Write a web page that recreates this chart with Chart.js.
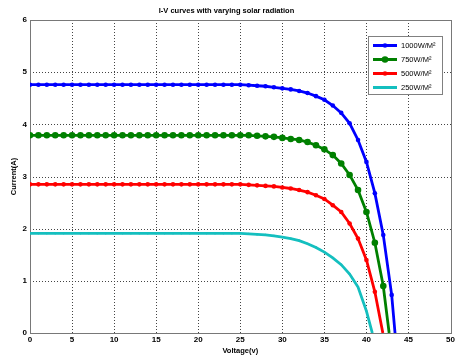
<!DOCTYPE html>
<html>
<head>
<meta charset="utf-8">
<script src="https://cdn.jsdelivr.net/npm/chart.js@4"></script>
<style>
body{margin:0;background:#fff}
canvas{display:block}
</style>
</head>
<body>
<canvas id="myChart" width="457" height="358"></canvas>
<script>
// voltage steps (V) and measured current (A) for each irradiance
const volts = [0,1,2,3,4,5,6,7,8,9,10,11,12,13,14,15,16,17,18,19,20,21,22,23,24,25,26,27,28,29,30,31,32,33,34,35,36,37,38,39,40,41,42,43];
const seriesNames = ['1000W/M²', '750W/M²', '500W/M²', '250W/M²'];
const i1000 = [4.76,4.76,4.76,4.76,4.76,4.76,4.76,4.76,4.76,4.76,4.76,4.76,4.76,4.76,4.76,4.76,4.76,4.76,4.76,4.76,4.76,4.76,4.76,4.76,4.76,4.76,4.75,4.74,4.73,4.71,4.69,4.67,4.64,4.60,4.54,4.47,4.36,4.22,4.02,3.70,3.28,2.68,1.88,0.73];
const i750 = [3.79,3.79,3.79,3.79,3.79,3.79,3.79,3.79,3.79,3.79,3.79,3.79,3.79,3.79,3.79,3.79,3.79,3.79,3.79,3.79,3.79,3.79,3.79,3.79,3.79,3.79,3.79,3.78,3.77,3.76,3.74,3.72,3.70,3.66,3.60,3.52,3.41,3.25,3.03,2.74,2.32,1.73,0.90];
const i500 = [2.85,2.85,2.85,2.85,2.85,2.85,2.85,2.85,2.85,2.85,2.85,2.85,2.85,2.85,2.85,2.85,2.85,2.85,2.85,2.85,2.85,2.85,2.85,2.85,2.85,2.85,2.84,2.83,2.82,2.81,2.79,2.77,2.74,2.70,2.64,2.57,2.45,2.32,2.10,1.81,1.40,0.79];
const i250 = [1.91,1.91,1.91,1.91,1.91,1.91,1.91,1.91,1.91,1.91,1.91,1.91,1.91,1.91,1.91,1.91,1.91,1.91,1.91,1.91,1.91,1.91,1.91,1.91,1.91,1.91,1.90,1.89,1.88,1.86,1.84,1.81,1.77,1.71,1.64,1.55,1.44,1.31,1.13,0.88,0.42];
const openCircuit = [43.4, 42.7, 41.95, 40.7];
const xTicks = [0,5,10,15,20,25,30,35,40,45,50];
const yTicks = [0,1,2,3,4,5,6];

function toPoints(cur, voc) {
  return cur.map((c, k) => ({x: volts[k], y: c})).concat([{x: voc, y: 0}]);
}

const colors = ['#0000ff', '#008000', '#ff0000', '#14bfbf'];
const radii = [2.3, 3.3, 2.3, 1.1];
const currents = [i1000, i750, i500, i250];

const datasets = currents.map((cur, n) => ({
  label: seriesNames[n],
  data: toPoints(cur, openCircuit[n]),
  borderColor: colors[n],
  backgroundColor: colors[n],
  borderWidth: 2.8,
  pointBackgroundColor: colors[n],
  pointBorderColor: colors[n],
  pointBorderWidth: 0,
  pointRadius: (c) => c.dataIndex === c.dataset.data.length - 1 ? 0 : radii[n],
  tension: 0,
  fill: false
}));

// dotted grid + grey box, matlab style
const frame = {
  id: 'frame',
  beforeDatasetsDraw(chart) {
    const {ctx, chartArea: a, scales} = chart;
    const top = Math.round(a.top), bottom = Math.round(a.bottom);
    const left = Math.round(a.left), right = Math.round(a.right);
    ctx.save();
    ctx.strokeStyle = '#444';
    ctx.lineWidth = 1;
    ctx.setLineDash([1, 2]);
    ctx.beginPath();
    xTicks.forEach(v => {
      const px = Math.round(scales.x.getPixelForValue(v)) + 0.5;
      ctx.moveTo(px, top);
      ctx.lineTo(px, bottom);
    });
    yTicks.forEach(v => {
      const py = Math.round(scales.y.getPixelForValue(v)) + 0.5;
      ctx.moveTo(left, py);
      ctx.lineTo(right, py);
    });
    ctx.stroke();
    ctx.setLineDash([]);
    ctx.strokeStyle = '#787878';
    ctx.strokeRect(left + 0.5, top + 0.5, right - left, bottom - top);
    ctx.restore();
  }
};

const boxLegend = {
  id: 'boxLegend',
  afterDatasetsDraw(chart) {
    const ctx = chart.ctx;
    ctx.save();
    ctx.fillStyle = '#fff';
    ctx.strokeStyle = '#808080';
    ctx.lineWidth = 1;
    ctx.fillRect(368.5, 36.5, 74, 58);
    ctx.strokeRect(368.5, 36.5, 74, 58);
    chart.data.datasets.forEach((ds, n) => {
      const y = 45.5 + n * 14;
      ctx.strokeStyle = ds.borderColor;
      ctx.lineWidth = 3;
      ctx.beginPath();
      ctx.moveTo(373, y);
      ctx.lineTo(397, y);
      ctx.stroke();
      ctx.fillStyle = ds.borderColor;
      ctx.beginPath();
      ctx.arc(385, y, radii[n], 0, Math.PI * 2);
      ctx.fill();
      ctx.fillStyle = '#000';
      ctx.font = '7.5px Arial, "Liberation Sans"';
      ctx.textBaseline = 'middle';
      ctx.textAlign = 'left';
      ctx.fillText(ds.label, 401, y + 0.5);
    });
    ctx.restore();
  }
};

const tickFont = {family: 'Arial, "Liberation Sans"', size: 8, weight: 'bold'};

const chart = new Chart(document.getElementById('myChart'), {
  type: 'line',
  data: {datasets: datasets},
  options: {
    responsive: false,
    animation: false,
    devicePixelRatio: 1,
    events: [],
    layout: {padding: {top: 0, right: 4, bottom: 0, left: 0}},
    plugins: {
      legend: {display: false},
      tooltip: {enabled: false},
      title: {
        display: true,
        text: 'I-V curves with varying solar radiation',
        color: '#000',
        font: {family: 'Arial, "Liberation Sans"', size: 7.5, weight: 'bold'},
        padding: {top: 6, bottom: 5}
      }
    },
    scales: {
      x: {
        type: 'linear',
        min: 0,
        max: 50,
        afterBuildTicks: (s) => { s.ticks = xTicks.map(v => ({value: v})); },
        afterFit: (s) => { s.height = 25; },
        ticks: {color: '#000', font: tickFont, padding: 2, maxRotation: 0},
        grid: {display: false, drawTicks: false},
        border: {display: false},
        title: {display: true, text: 'Voltage(v)', color: '#000', font: {family: 'Arial, "Liberation Sans"', size: 7.5, weight: 'bold'}, padding: {top: 0, bottom: 3}}
      },
      y: {
        type: 'linear',
        min: 0,
        max: 6,
        afterBuildTicks: (s) => { s.ticks = yTicks.map(v => ({value: v})); },
        afterFit: (s) => { s.width = 30; },
        ticks: {color: '#000', font: tickFont, padding: 3},
        grid: {display: false, drawTicks: false},
        border: {display: false},
        title: {display: true, text: 'Current(A)', color: '#000', font: {family: 'Arial, "Liberation Sans"', size: 7.5, weight: 'bold'}, padding: {top: 9, bottom: 0}}
      }
    }
  },
  plugins: [frame, boxLegend]
});
</script>
</body>
</html>
